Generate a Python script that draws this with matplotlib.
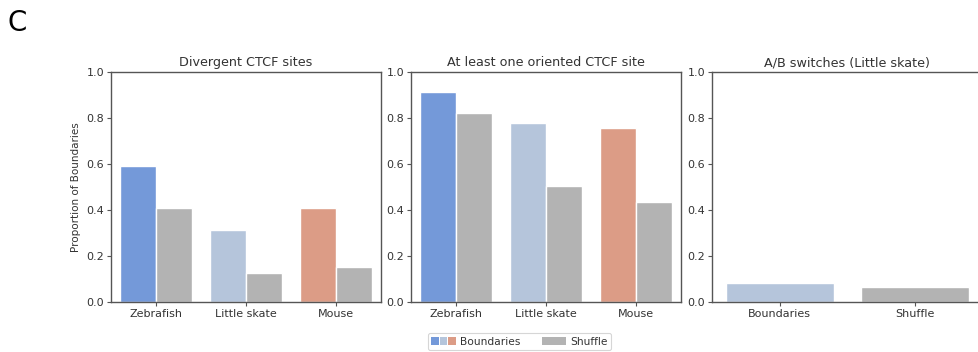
import numpy as np
import matplotlib.pyplot as plt
from matplotlib.patches import Patch
from matplotlib.legend_handler import HandlerTuple

species = ['Zebrafish', 'Little skate', 'Mouse']
divergent_bound = [0.591, 0.313, 0.409]
divergent_shuffle = [0.409, 0.125, 0.153]
oriented_bound = [0.913, 0.780, 0.757]
oriented_shuffle = [0.822, 0.504, 0.435]
ab_labels = ['Boundaries', 'Shuffle']
ab_values = [0.082, 0.067]

species_colors = ['#7499d9', '#b5c5db', '#dc9c86']
shuffle_color = '#b3b3b3'
spine_color = '#555555'
text_color = '#333333'

fig = plt.figure(figsize=(9.79, 3.52), dpi=100)
fig.text(0.008, 0.975, 'C', fontsize=20, va='top', ha='left', color='black')

bottom, height = 0.142, 0.6534
width = 0.2758
lefts = [0.1134, 0.4198, 0.7273]
axes = [fig.add_axes([l, bottom, width, height]) for l in lefts]


def style(ax, title):
    ax.set_title(title, fontsize=9.2, color=text_color, pad=4)
    ax.set_ylim(0, 1.0)
    ax.set_yticks(np.arange(0, 1.01, 0.2))
    ax.set_yticklabels([f'{v:.1f}' for v in np.arange(0, 1.01, 0.2)])
    for s in ax.spines.values():
        s.set_color(spine_color)
        s.set_linewidth(1.0)
    ax.tick_params(axis='both', labelsize=8, colors=text_color, length=3,
                   width=0.8, color=spine_color, pad=2)


def grouped(ax, bound, shuffle, title):
    x = np.arange(len(species))
    w = 0.4
    ax.bar(x - w / 2, bound, w, color=species_colors, edgecolor='white', linewidth=1)
    ax.bar(x + w / 2, shuffle, w, color=shuffle_color, edgecolor='white', linewidth=1)
    ax.set_xticks(x)
    ax.set_xticklabels(species)
    ax.set_xlim(-0.5, len(species) - 0.5)
    style(ax, title)


grouped(axes[0], divergent_bound, divergent_shuffle, 'Divergent CTCF sites')
grouped(axes[1], oriented_bound, oriented_shuffle, 'At least one oriented CTCF site')

ax3 = axes[2]
x3 = np.arange(len(ab_labels))
ax3.bar(x3, ab_values, 0.8, color=[species_colors[1], shuffle_color],
        edgecolor='white', linewidth=1)
ax3.set_xticks(x3)
ax3.set_xticklabels(ab_labels)
ax3.set_xlim(-0.5, 1.5)
style(ax3, 'A/B switches (Little skate)')

axes[0].set_ylabel('Proportion of Boundaries', fontsize=7.5, color=text_color, labelpad=4)

bound_handle = tuple(Patch(facecolor=c, edgecolor='none') for c in species_colors)
shuffle_handle = Patch(facecolor=shuffle_color, edgecolor='none')
leg = fig.legend([bound_handle, shuffle_handle], ['Boundaries', 'Shuffle'],
                 handler_map={tuple: HandlerTuple(ndivide=None, pad=0.1)},
                 loc='upper center', bbox_to_anchor=(0.5306, 0.054), ncol=2,
                 fontsize=7.7, frameon=True, handlelength=2.25, handleheight=0.7,
                 handletextpad=0.4, columnspacing=2.0, borderpad=0.35,
                 borderaxespad=0)
leg.get_frame().set_edgecolor('#cccccc')
leg.get_frame().set_linewidth(0.8)
for t in leg.get_texts():
    t.set_color(text_color)

fig.savefig('out.png', dpi=100)
